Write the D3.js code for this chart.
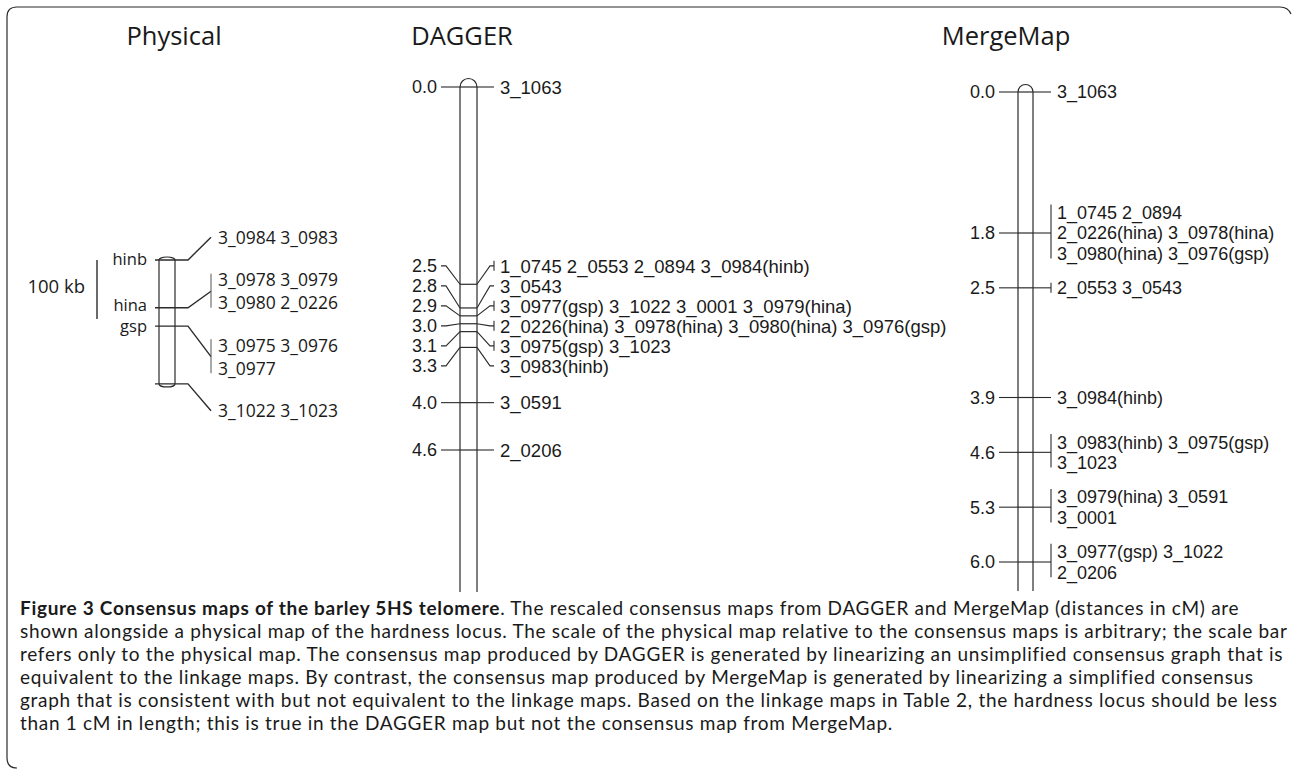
<!DOCTYPE html>
<html lang='en'>
<head>
<meta charset='utf-8'>
<title>Consensus maps of the barley 5HS telomere</title>
<script src="https://d3js.org/d3.v7.min.js"></script>
<style>
	body{margin:0;background:#fff;}
</style>
</head>
<body>
<div id='figure'></div>
<script>
// physical map, positions in kb measured from hinb
const physPos = [0, 81, 112, 210];
const physLoci = ["hinb", "hina", "gsp", ""];
const physMarkers = [
	["3_0984", "3_0983"],
	["3_0978", "3_0979", "3_0980", "2_0226"],
	["3_0975", "3_0976", "3_0977"],
	["3_1022", "3_1023"]
];
const physScaleKb = 100;

// DAGGER consensus map (cM)
const daggerPos = [0.0, 2.5, 2.8, 2.9, 3.0, 3.1, 3.3, 4.0, 4.6];
const daggerMarkers = [
	["3_1063"],
	["1_0745", "2_0553", "2_0894", "3_0984(hinb)"],
	["3_0543"],
	["3_0977(gsp)", "3_1022", "3_0001", "3_0979(hina)"],
	["2_0226(hina)", "3_0978(hina)", "3_0980(hina)", "3_0976(gsp)"],
	["3_0975(gsp)", "3_1023"],
	["3_0983(hinb)"],
	["3_0591"],
	["2_0206"]
];

// MergeMap consensus map (cM)
const mergePos = [0.0, 1.8, 2.5, 3.9, 4.6, 5.3, 6.0];
const mergeMarkers = [
	["3_1063"],
	["1_0745", "2_0894", "2_0226(hina)", "3_0978(hina)", "3_0980(hina)", "3_0976(gsp)"],
	["2_0553", "3_0543"],
	["3_0984(hinb)"],
	["3_0983(hinb)", "3_0975(gsp)", "3_1023"],
	["3_0979(hina)", "3_0591", "3_0001"],
	["3_0977(gsp)", "3_1022", "2_0206"]
];

const titles = ["Physical", "DAGGER", "MergeMap"];
const captionBold = "Figure 3 Consensus maps of the barley 5HS telomere";
const captionLines = [
	". The rescaled consensus maps from DAGGER and MergeMap (distances in cM) are",
	"shown alongside a physical map of the hardness locus. The scale of the physical map relative to the consensus maps is arbitrary; the scale bar",
	"refers only to the physical map. The consensus map produced by DAGGER is generated by linearizing an unsimplified consensus graph that is",
	"equivalent to the linkage maps. By contrast, the consensus map produced by MergeMap is generated by linearizing a simplified consensus",
	"graph that is consistent with but not equivalent to the linkage maps. Based on the linkage maps in Table 2, the hardness locus should be less",
	"than 1 cM in length; this is true in the DAGGER map but not the consensus map from MergeMap."
];

const W = 1292, H = 769;
const ink = "#1a1a1a", stroke = "#2b2b2b";
const armFont = "'Liberation Sans', Arial, sans-serif";
const humFont = "'Open Sans', 'Noto Sans', sans-serif";
const capFont = "Lato, 'Open Sans', sans-serif";

let svg = d3.select("#figure")
			.append("svg")
				.attr("width", W)
				.attr("height", H);

// frame
svg.append("path")
	.attr("d", "M17,768 Q7,768 7,758 L7,17 Q7,7 17,7 L1280,7 Q1288,7 1291,14")
	.attr("fill", "none")
	.attr("stroke", stroke)
	.attr("stroke-width", 1.2);

// titles
const titleX = [174, 462, 1006];
titles.forEach(function(t, i){
	svg.append("text")
		.attr("x", titleX[i]).attr("y", 45)
		.attr("text-anchor", "middle")
		.style("font-family", humFont)
		.style("font-size", "25.5px")
		.attr("fill", ink)
		.text(t);
});

// push overlapping label blocks apart, keeping each cluster centred on the span of its targets
function spread(items, gap){
	let groups = items.map(function(d){ return {idx:[], h:d.h, lo:d.target, hi:d.target}; });
	groups.forEach((g, i) => g.idx.push(i));
	const centre = g => (g.lo + g.hi) / 2;
	let changed = true;
	while(changed){
		changed = false;
		for(let i = 1; i < groups.length; i++){
			let a = groups[i-1], b = groups[i];
			if(centre(a) + a.h/2 + gap > centre(b) - b.h/2){
				groups.splice(i-1, 2, {idx:a.idx.concat(b.idx), h:a.h + gap + b.h,
					lo:Math.min(a.lo, b.lo), hi:Math.max(a.hi, b.hi)});
				changed = true;
				break;
			}
		}
	}
	let out = [];
	groups.forEach(function(g){
		let y = centre(g) - g.h/2;
		g.idx.forEach(function(i){
			out[i] = y + items[i].h/2;
			y += items[i].h + gap;
		});
	});
	return out;
}

function chunk(arr, n){
	let res = [];
	for(let i = 0; i < arr.length; i += n) res.push(arr.slice(i, i + n).join(" "));
	return res;
}

function line(pts){ return d3.line()(pts); }

// ---------- Physical ----------
let phys = svg.append("g");
let yPhys = d3.scaleLinear().domain([0, 100]).range([260, 319]);
const pcx = 167, pw = 16;

phys.append("rect")
	.attr("x", pcx - pw/2).attr("width", pw)
	.attr("y", yPhys(physPos[0]) - 3)
	.attr("height", yPhys(physPos[physPos.length-1]) - yPhys(physPos[0]) + 6)
	.attr("rx", pw/2).attr("ry", 3)
	.attr("fill", "none").attr("stroke", stroke).attr("stroke-width", 1.2);

// scale bar
phys.append("line")
	.attr("x1", 97).attr("x2", 97)
	.attr("y1", yPhys(0)).attr("y2", yPhys(physScaleKb))
	.attr("stroke", stroke).attr("stroke-width", 1.4);
phys.append("text")
	.attr("x", 85).attr("y", (yPhys(0) + yPhys(physScaleKb))/2 - 3)
	.attr("dy", "0.36em")
	.attr("text-anchor", "end")
	.style("font-family", humFont).style("font-size", "18.5px")
	.attr("fill", ink)
	.text(physScaleKb + " kb");

const physLineH = 23;
let physLines = physMarkers.map(m => chunk(m, 2));
let physLabelY = spread(physPos.map(function(p, i){ return {target:yPhys(p), h:physLines[i].length * physLineH}; }), 19.5);
let lociY = spread(physPos.map(p => ({target:yPhys(p), h:19})), 2);

physPos.forEach(function(p, i){
	let y = yPhys(p), ly = physLabelY[i] + 2, lines = physLines[i];
	phys.append("path")
		.attr("d", line([[155, y], [188, y], [211, ly]]))
		.attr("fill", "none").attr("stroke", stroke).attr("stroke-width", 1.4);
	if(physLoci[i]){
		phys.append("text")
			.attr("x", 147).attr("y", lociY[i]).attr("dy", "0.3em")
			.attr("text-anchor", "end")
			.style("font-family", humFont).style("font-size", "16.5px")
			.attr("fill", ink)
			.text(physLoci[i]);
	}
	let top = ly - lines.length * physLineH / 2;
	if(lines.length > 1){
		phys.append("line")
			.attr("x1", 211).attr("x2", 211)
			.attr("y1", top + physLineH/2 - 6).attr("y2", top + physLineH * (lines.length - 0.5) + 5)
			.attr("stroke", "#555").attr("stroke-width", 1);
	}
	lines.forEach(function(t, k){
		phys.append("text")
			.attr("x", 218).attr("y", top + physLineH * (k + 0.5)).attr("dy", "0.36em")
			.style("font-family", humFont).style("font-size", "17.5px")
			.attr("fill", ink)
			.text(t);
	});
});

// ---------- linkage maps ----------
function drawMap(opts){
	let g = svg.append("g");
	let y = d3.scaleLinear().domain(opts.domain).range(opts.range);
	const L = opts.cx - opts.w/2, R = opts.cx + opts.w/2;
	let lines = opts.markers.map(m => chunk(m, opts.perLine));
	let labelY = spread(opts.pos.map(function(p, i){ return {target:y(p), h:lines[i].length * opts.lineH}; }), 0);

	// chromosome outline
	let y0 = y(opts.pos[0]);
	g.append("path")
		.attr("d", `M${L},${opts.bottom} L${L},${y0} A${opts.w/2},${opts.w/2} 0 0 1 ${R},${y0} L${R},${opts.bottom}`)
		.attr("fill", "none").attr("stroke", stroke).attr("stroke-width", 1.2);

	opts.pos.forEach(function(p, i){
		let my = y(p), ly = labelY[i];
		let multi = opts.markers[i].length > 1;
		g.append("line")
			.attr("x1", L).attr("x2", R).attr("y1", my).attr("y2", my)
			.attr("stroke", stroke).attr("stroke-width", 1.2);
		g.append("path")
			.attr("d", line([[L - 19, ly], [L - 14, ly], [L, my]]))
			.attr("fill", "none").attr("stroke", stroke).attr("stroke-width", 1.1);
		g.append("path")
			.attr("d", line([[R, my], [R + 13, ly], [R + opts.arm, ly]]))
			.attr("fill", "none").attr("stroke", stroke).attr("stroke-width", 1.1);
		g.append("text")
			.attr("x", L - 23).attr("y", ly).attr("dy", "0.36em")
			.attr("text-anchor", "end")
			.style("font-family", armFont).style("font-size", "18px")
			.attr("fill", ink)
			.text(p.toFixed(1));
		let top = ly - lines[i].length * opts.lineH / 2;
		let first = top + opts.lineH/2, last = top + opts.lineH * (lines[i].length - 0.5);
		if(multi){
			g.append("line")
				.attr("x1", R + opts.arm).attr("x2", R + opts.arm)
				.attr("y1", first - (lines[i].length > 1 ? 8 : 5)).attr("y2", last + 5)
				.attr("stroke", stroke).attr("stroke-width", 1.1);
		}
		lines[i].forEach(function(t, k){
			g.append("text")
				.attr("x", R + opts.arm + 6).attr("y", top + opts.lineH * (k + 0.5)).attr("dy", "0.36em")
				.style("font-family", armFont).style("font-size", opts.fontSize)
				.attr("fill", ink)
				.text(t);
		});
	});
}

drawMap({pos:daggerPos, markers:daggerMarkers, domain:[0, 4.6], range:[87, 450],
	cx:468.5, w:17, bottom:592, lineH:20, perLine:Infinity, arm:17, fontSize:"18.5px"});
drawMap({pos:mergePos, markers:mergeMarkers, domain:[0, 6.0], range:[92, 562],
	cx:1025.5, w:15, bottom:591, lineH:20.5, perLine:2, arm:18, fontSize:"18px"});

// ---------- caption ----------
captionLines.forEach(function(t, i){
	let txt = svg.append("text")
		.attr("x", 20).attr("y", 615 + i * 23)
		.style("font-family", capFont).style("font-size", "19px")
		.style("letter-spacing", "0.7px")
		.attr("fill", ink);
	if(i === 0){
		txt.append("tspan").style("font-weight", "bold").text(captionBold);
		txt.append("tspan").text(t);
	} else {
		txt.text(t);
	}
});
</script>
</body>
</html>
